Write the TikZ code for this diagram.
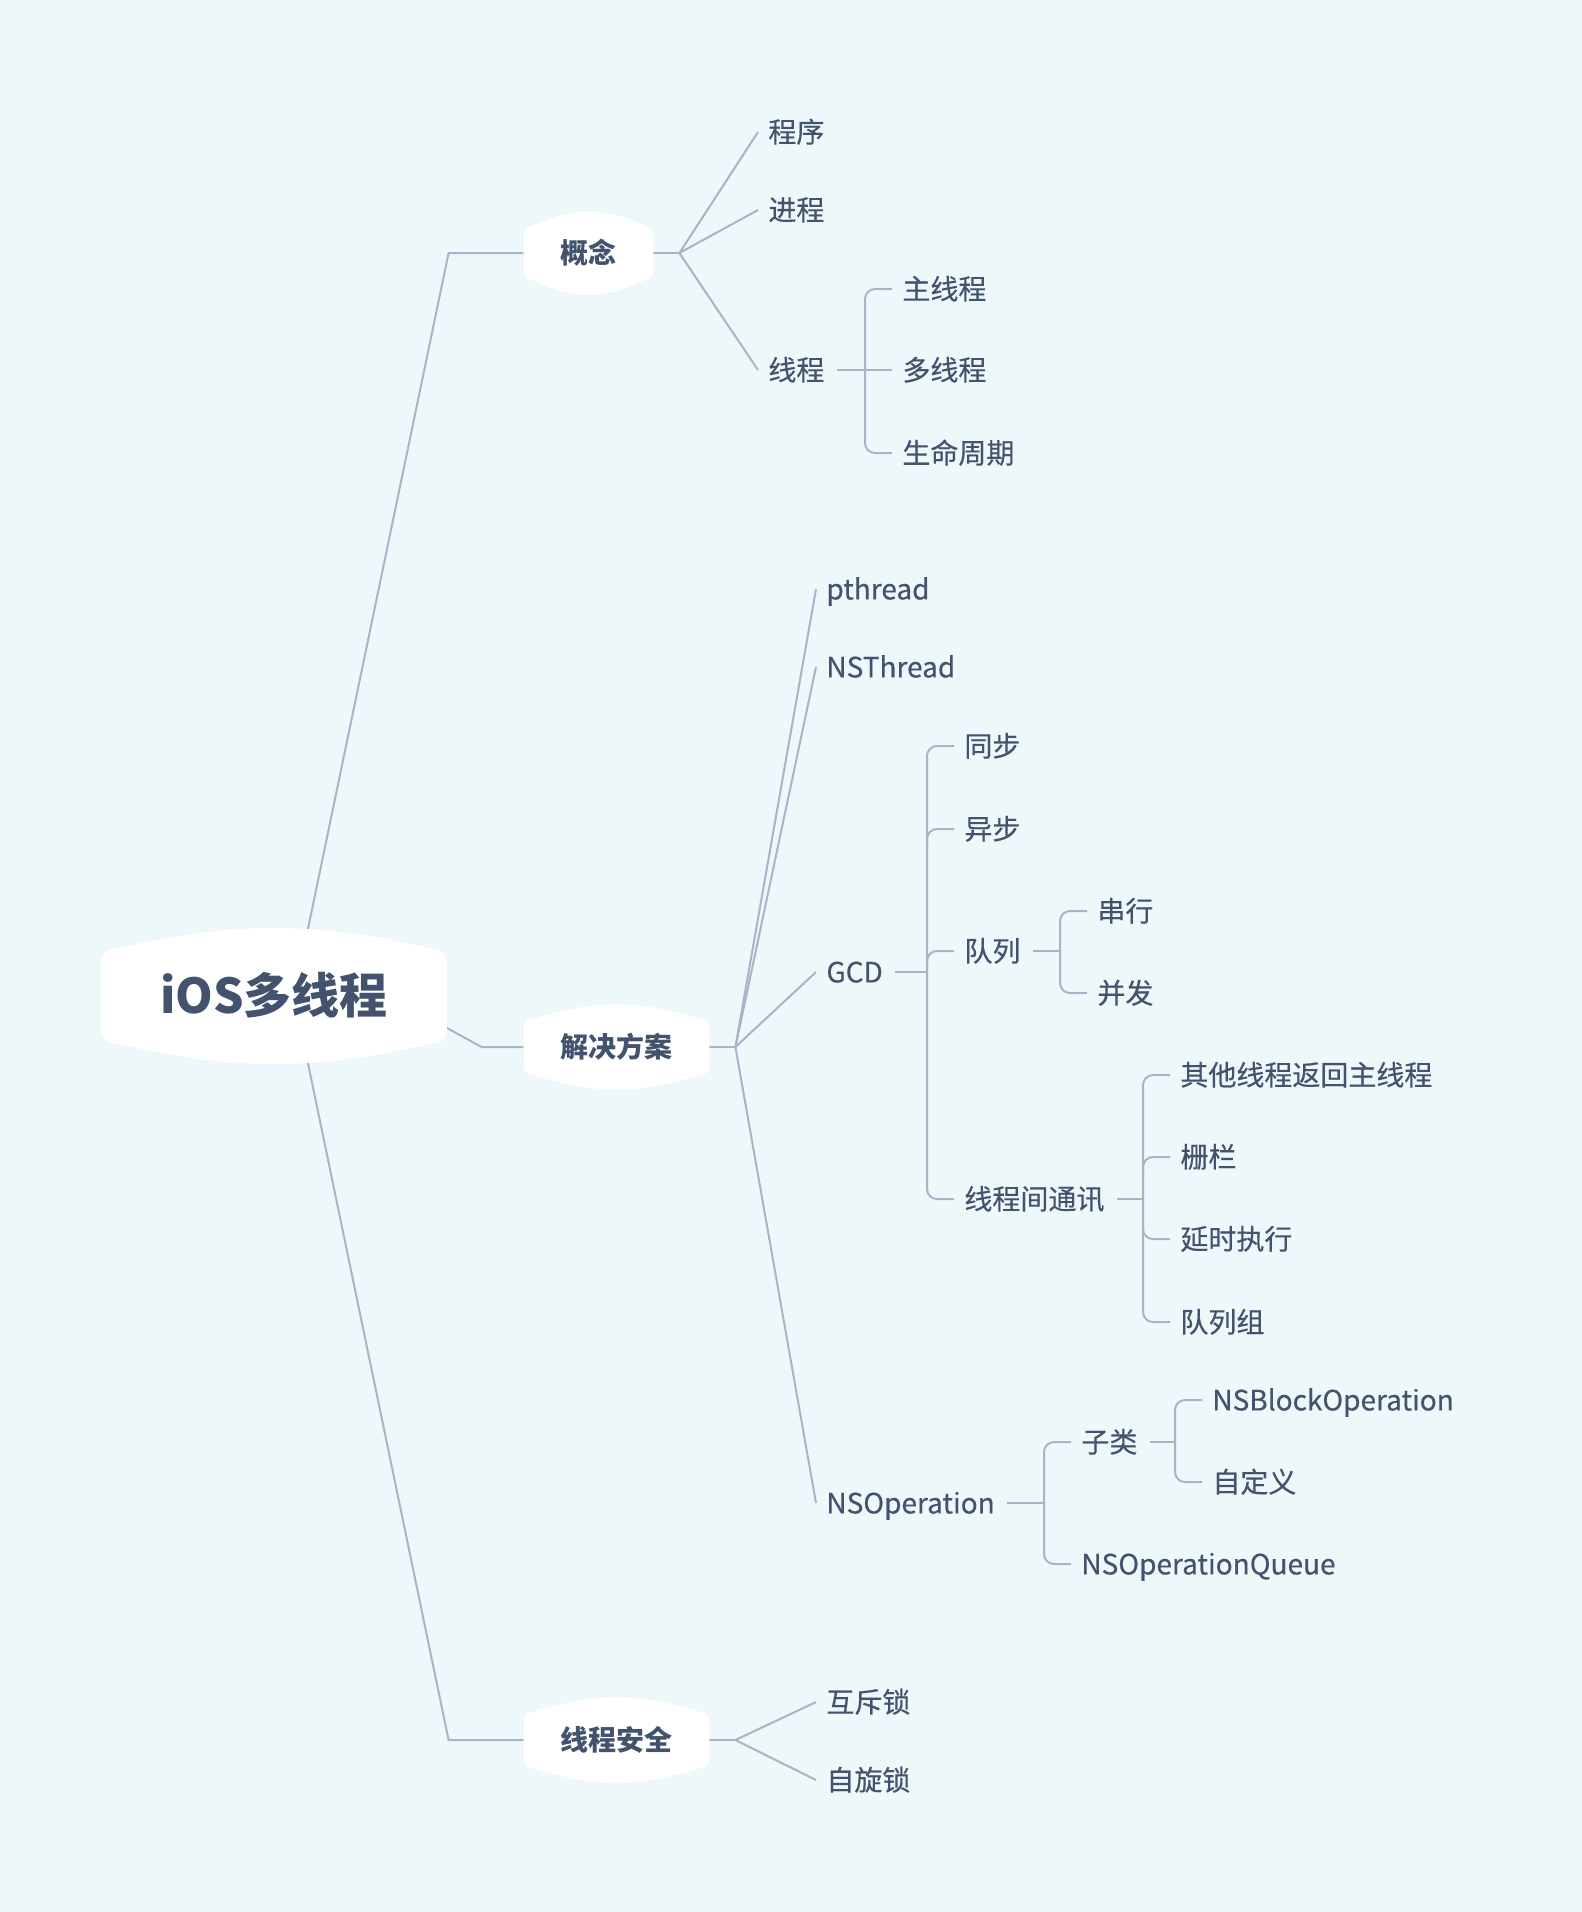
\documentclass[tikz,border=0pt]{standalone}
\usepackage{fontspec}
\newfontfamily\cjk[FakeBold=0.4]{Noto Sans CJK SC}
\newfontfamily\cjkbold{Noto Sans CJK SC}
\usepackage{xcolor}
\definecolor{paperBlue}{HTML}{EEF7FA}
\definecolor{inkSlate}{HTML}{43536E}
\definecolor{wireGrey}{HTML}{A7B5C6}
\usepackage{tikz}
\usetikzlibrary{calc}
\pgfdeclarelayer{back}
\pgfdeclarelayer{lines}
\pgfdeclarelayer{shapes}
\pgfsetlayers{back,lines,shapes,main}
% white topic shape: node, bend of top/bottom, corner
\newcommand{\bubble}[3]{%
  \fill[white] ([yshift=-#3]#1.north west) -- ([yshift=#3]#1.south west)
    to[out=-90,in=180] ([xshift=#3]#1.south west)
    to[bend right=#2] ([xshift=-#3]#1.south east)
    to[out=0,in=-90] ([yshift=#3]#1.south east)
    -- ([yshift=-#3]#1.north east)
    to[out=90,in=0] ([xshift=-#3]#1.north east)
    to[bend right=#2] ([xshift=#3]#1.north west)
    to[out=180,in=90] ([yshift=-#3]#1.north west) -- cycle;}
% middle branch of a bracket: child, knot, turn
\newcommand{\twig}[3]{%
  \draw[conn, rounded corners=5pt] ([xshift=-5pt]#1.west) -| ($(#2 |- #1.west)+(0,#3)$);}

\begin{document}
\begin{tikzpicture}[x=0.5pt, y=0.5pt,
    leaf/.style={anchor=west, inner sep=0pt, text=inkSlate, font=\cjk\fontsize{14}{17}\selectfont, text height=10.4pt, text depth=0pt},
    topic/.style={inner sep=0pt, text=inkSlate, font=\cjkbold\bfseries\fontsize{14}{17}\selectfont, text height=10.4pt, text depth=0pt},
    conn/.style={draw=wireGrey, line width=1pt}]
  \useasboundingbox (0,0) rectangle (1582,-1912);
  \begin{pgfonlayer}{back}
    \fill[paperBlue] (0,0) rectangle (1582,-1912);
  \end{pgfonlayer}

  % Root and topics
  \node[topic, font=\cjkbold\bfseries\fontsize{24}{29}\selectfont, text height=17.8pt, minimum width=172.5pt, minimum height=46.5pt] (root) at (274,-996) {iOS多线程};
  \node[topic, minimum width=64.5pt, minimum height=27pt] (gn) at (588.5,-253) {概念};
  \node[topic, minimum width=92.5pt, minimum height=28pt] (jjfa) at (616.5,-1047) {解决方案};
  \node[topic, minimum width=92.5pt, minimum height=28pt] (aq) at (616.5,-1740) {线程安全};

  % Concept
  \node[leaf] (cx) at (768,-132) {程序};
  \node[leaf] (jc) at (768,-210) {进程};
  \node[leaf] (xc) at (768,-370) {线程};
  \node[leaf] (zxc) at (902,-289) {主线程};
  \node[leaf] (dxc) at (902,-370) {多线程};
  \node[leaf] (smzq) at (902,-453) {生命周期};

  % Solutions
  \node[leaf] (pth) at (826,-589) {pthread};
  \node[leaf] (nst) at (826,-667) {NSThread};
  \node[leaf] (gcd) at (826,-972) {GCD};
  \node[leaf] (nso) at (826,-1503) {NSOperation};
  \node[leaf] (tb) at (964,-746) {同步};
  \node[leaf] (yb) at (964,-829) {异步};
  \node[leaf] (dl) at (964,-951) {队列};
  \node[leaf] (txw) at (964,-1199) {线程间通讯};
  \node[leaf] (cxing) at (1097,-911) {串行};
  \node[leaf] (bf) at (1097,-993) {并发};
  \node[leaf] (qt) at (1180,-1075) {其他线程返回主线程};
  \node[leaf] (zl) at (1180,-1157) {栅栏};
  \node[leaf] (ys) at (1180,-1239) {延时执行};
  \node[leaf] (dlz) at (1180,-1322) {队列组};
  \node[leaf] (zil) at (1081,-1442) {子类};
  \node[leaf] (nsq) at (1081,-1564) {NSOperationQueue};
  \node[leaf] (nsb) at (1212,-1400) {NSBlockOperation};
  \node[leaf] (zdy) at (1212,-1482) {自定义};

  % Safety
  \node[leaf] (hcs) at (826,-1702) {互斥锁};
  \node[leaf] (zxs) at (826,-1780) {自旋锁};

  \begin{pgfonlayer}{lines}
    % root
    \draw[conn] ([xshift=10pt]root.center) -- ([xshift=-37.5pt]gn.west) -- (gn.west);
    \draw[conn] ([yshift=-16pt]root.east) -- ([xshift=-21pt]jjfa.west) -- (jjfa.west);
    \draw[conn] ([xshift=10pt]root.center) -- ([xshift=-37.5pt]aq.west) -- (aq.west);
    % forks
    \draw[conn] (gn.east) -- ++(13pt,0) coordinate (gnf);
    \foreach \c in {cx,jc,xc} \draw[conn] (gnf) -- ([xshift=-5pt]\c.west);
    \draw[conn] (jjfa.east) -- ++(13pt,0) coordinate (jjf);
    \foreach \c in {pth,nst,gcd,nso} \draw[conn] (jjf) -- ([xshift=-5pt]\c.west);
    \draw[conn] (aq.east) -- ++(13pt,0) coordinate (aqf);
    \foreach \c in {hcs,zxs} \draw[conn] (aqf) -- ([xshift=-5pt]\c.west);
    % thread
    \draw[conn] ([xshift=6pt]xc.east) -- ($(zxc.west |- xc.east)+(-18.5pt,0)$) coordinate (xck);
    \draw[conn, rounded corners=5pt] ([xshift=-5pt]zxc.west) -| (xck) |- ([xshift=-5pt]smzq.west);
    \draw[conn] ([xshift=-5pt]dxc.west) -- (xck);
    % gcd
    \draw[conn] ([xshift=6pt]gcd.east) -- ($(tb.west |- gcd.east)+(-18.5pt,0)$) coordinate (gcdk);
    \draw[conn, rounded corners=5pt] ([xshift=-5pt]tb.west) -| (gcdk) |- ([xshift=-5pt]txw.west);
    \twig{yb}{gcdk}{-8pt}
    \twig{dl}{gcdk}{-8pt}
    % queue
    \draw[conn] ([xshift=6pt]dl.east) -- ($(cxing.west |- dl.east)+(-18.5pt,0)$) coordinate (dlk);
    \draw[conn, rounded corners=5pt] ([xshift=-5pt]cxing.west) -| (dlk) |- ([xshift=-5pt]bf.west);
    % communication
    \draw[conn] ([xshift=6pt]txw.east) -- ($(qt.west |- txw.east)+(-18.5pt,0)$) coordinate (txk);
    \draw[conn, rounded corners=5pt] ([xshift=-5pt]qt.west) -| (txk) |- ([xshift=-5pt]dlz.west);
    \twig{zl}{txk}{-8pt}
    \twig{ys}{txk}{8pt}
    % operation
    \draw[conn] ([xshift=6pt]nso.east) -- ($(zil.west |- nso.east)+(-18.5pt,0)$) coordinate (nsok);
    \draw[conn, rounded corners=5pt] ([xshift=-5pt]zil.west) -| (nsok) |- ([xshift=-5pt]nsq.west);
    \draw[conn] ([xshift=6pt]zil.east) -- ($(nsb.west |- zil.east)+(-18.5pt,0)$) coordinate (zilk);
    \draw[conn, rounded corners=5pt] ([xshift=-5pt]nsb.west) -| (zilk) |- ([xshift=-5pt]zdy.west);
  \end{pgfonlayer}

  \begin{pgfonlayer}{shapes}
    \bubble{root}{13}{6pt}
    \bubble{gn}{26}{5pt}
    \bubble{jjfa}{17}{5pt}
    \bubble{aq}{17}{5pt}
  \end{pgfonlayer}
\end{tikzpicture}
\end{document}
